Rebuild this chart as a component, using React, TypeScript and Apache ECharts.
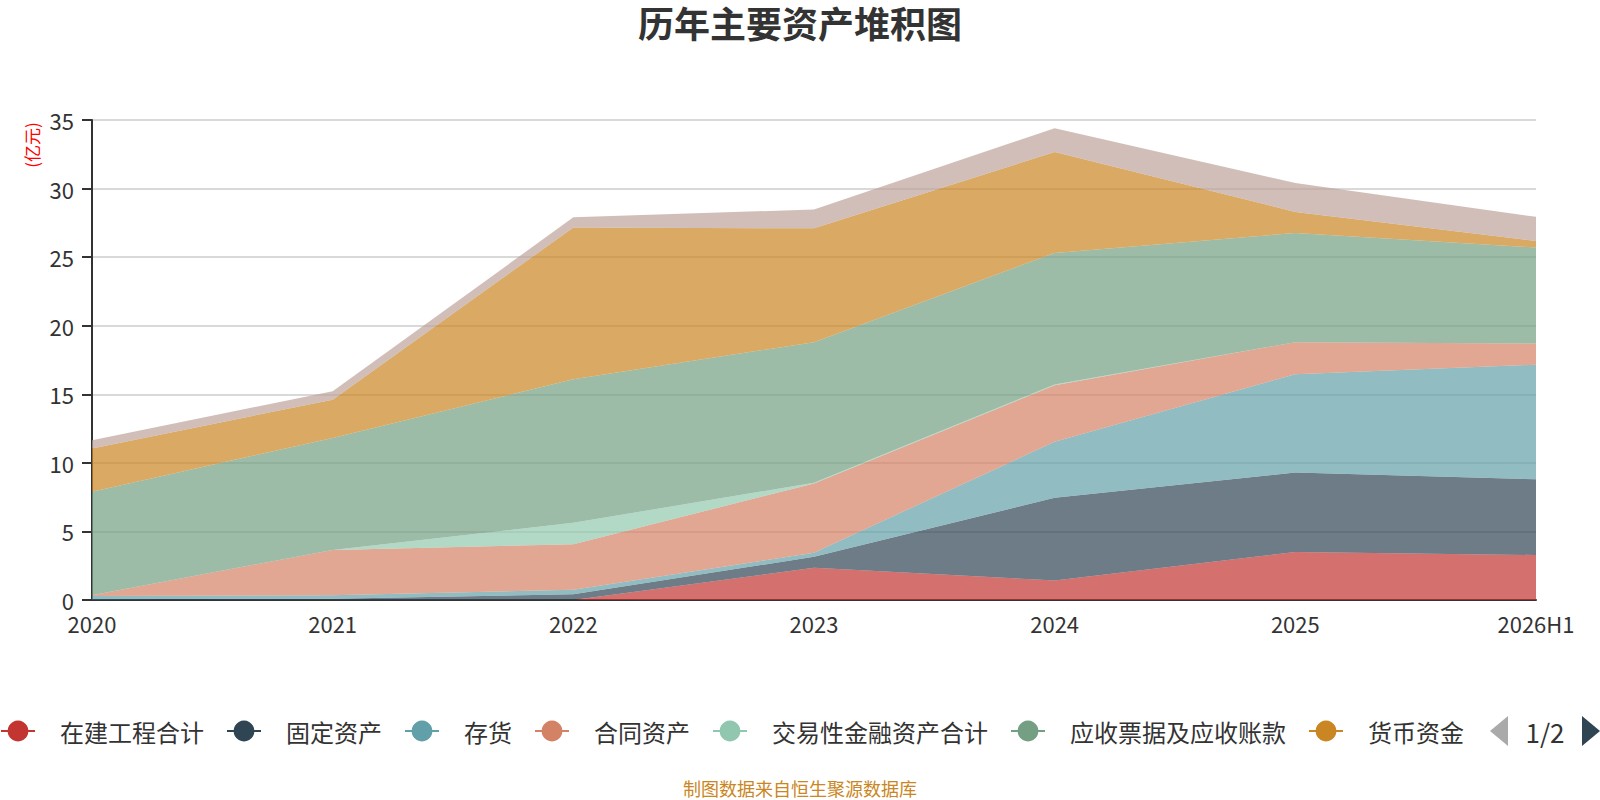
import React, { useEffect, useRef } from "react";
import * as echarts from "echarts";

const categories = ["2020", "2021", "2022", "2023", "2024", "2025", "2026H1"];
const yTicks = { min: 0, max: 35, interval: 5 };

const seriesNames = [
  "在建工程合计",
  "固定资产",
  "存货",
  "合同资产",
  "交易性金融资产合计",
  "应收票据及应收账款",
  "货币资金",
  "无形资产",
];

const zaiJianGongCheng = [0, 0, 0, 2.35, 1.42, 3.5, 3.28];
const guDingZiChan = [0.05, 0.1, 0.42, 0.8, 6.03, 5.79, 5.52];
const cunHuo = [0.25, 0.25, 0.32, 0.3, 4.09, 7.18, 8.36];
const heTongZiChan = [0.05, 3.3, 3.33, 5.05, 4.12, 2.33, 1.54];
const jiaoYiXing = [0, 0, 1.56, 0.05, 0.05, 0, 0];
const yingShou = [7.55, 8.16, 10.47, 10.25, 9.6, 7.96, 7.0];
const huoBi = [3.15, 2.8, 11.06, 8.3, 7.35, 1.54, 0.48];
const qiTa = [0.6, 0.61, 0.74, 1.38, 1.74, 2.1, 1.76];

const seriesValues = [
  zaiJianGongCheng,
  guDingZiChan,
  cunHuo,
  heTongZiChan,
  jiaoYiXing,
  yingShou,
  huoBi,
  qiTa,
];

const palette = [
  "#c23531",
  "#2f4554",
  "#61a0a8",
  "#d48265",
  "#91c7ae",
  "#749f83",
  "#ca8622",
  "#bda29a",
];

const FONT = "'Noto Sans CJK SC', 'Noto Sans', sans-serif";

export default function App() {
  const ref = useRef<HTMLDivElement>(null);

  useEffect(() => {
    if (!ref.current) return;
    const chart = echarts.init(ref.current, null, { renderer: "svg" });
    chart.setOption({
      animation: false,
      color: palette,
      textStyle: { fontFamily: FONT },
      title: {
        text: "历年主要资产堆积图",
        left: "center",
        top: 0,
        padding: [4, 5, 5, 5],
        textStyle: { fontSize: 36, fontWeight: "bold", color: "#333", fontFamily: FONT },
      },
      grid: { left: 92, right: 64, top: 120, bottom: 200, containLabel: false },
      legend: {
        type: "scroll",
        left: 0,
        right: 0,
        top: 711,
        padding: [5, 0, 5, 0],
        itemWidth: 34,
        itemHeight: 26,
        itemGap: 22,
        lineStyle: { width: 2 },
        textStyle: { fontSize: 24, color: "#333", fontFamily: FONT, padding: [0, 0, 0, 20] },
        pageButtonItemGap: 6,
        pageButtonGap: 18,
        pageIconColor: "#2f4554",
        pageIconInactiveColor: "#aaa",
        pageIconSize: [18, 30],
        pageTextStyle: { fontSize: 26, color: "#333", fontFamily: FONT },
        data: seriesNames,
      },
      xAxis: {
        type: "category",
        boundaryGap: false,
        data: categories,
        axisLine: { lineStyle: { color: "#333", width: 2 } },
        axisTick: { show: false },
        axisLabel: { fontSize: 22, color: "#333", margin: 12, fontFamily: FONT },
        splitLine: { show: false },
      },
      yAxis: {
        type: "value",
        min: yTicks.min,
        max: yTicks.max,
        interval: yTicks.interval,
        axisLine: { show: true, lineStyle: { color: "#333", width: 2 } },
        axisTick: { show: true, length: 10, lineStyle: { color: "#333", width: 2 } },
        axisLabel: { fontSize: 22, color: "#333", margin: 18, fontFamily: FONT },
        splitLine: { lineStyle: { color: "#ccc", width: 1.5 } },
      },
      graphic: [
        {
          type: "text",
          x: 31,
          y: 145,
          rotation: Math.PI / 2,
          style: {
            text: "(亿元)",
            fill: "#ff0000",
            font: `17px ${FONT}`,
            align: "center",
            verticalAlign: "middle",
          },
        },
        {
          type: "text",
          x: 800,
          y: 788,
          style: {
            text: "制图数据来自恒生聚源数据库",
            fill: "#ca8622",
            font: `18px ${FONT}`,
            align: "center",
            verticalAlign: "middle",
          },
        },
      ],
      series: seriesNames.map((name, i) => ({
        name,
        type: "line",
        stack: "total",
        symbol: "none",
        data: seriesValues[i],
        lineStyle: { width: 0 },
        areaStyle: { opacity: 0.7 },
        emphasis: { disabled: true },
      })),
    });
    return () => chart.dispose();
  }, []);

  return (
    <div
      ref={ref}
      style={{ position: "absolute", left: 0, top: 0, width: 1600, height: 800 }}
    />
  );
}
